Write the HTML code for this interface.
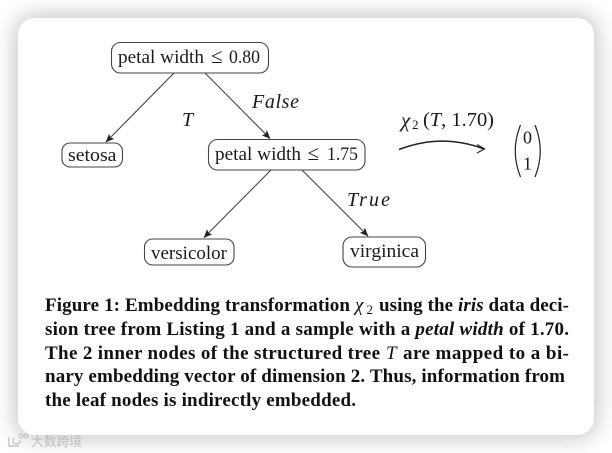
<!DOCTYPE html>
<html>
<head>
<meta charset="utf-8">
<style>
html,body{margin:0;padding:0;background:#fff}
#wrap{position:relative;width:612px;height:453px;overflow:hidden;background:#fff}
#card{position:absolute;left:18px;top:18px;width:576px;height:417px;background:#fff;border-radius:17px;box-shadow:0 0 20px 5px rgba(0,0,0,.2)}
svg{position:absolute;left:0;top:0}
text{font-family:"Liberation Serif","Noto Serif CJK SC",serif;fill:#1a1a1a}
.n{font-size:18.5px}
.i{font-size:20px;font-style:italic}
.c{font-size:19px;font-weight:bold;fill:#111}
.ci{font-style:italic}
.cm{font-style:italic;font-weight:normal}
rect{fill:#fff;stroke:#444;stroke-width:1.1}
.e{stroke:#444;stroke-width:1.1;fill:none}
</style>
</head>
<body>
<div id="wrap">
<div id="card"></div>
<svg width="612" height="453" viewBox="0 0 612 453">
<defs>
<marker id="a" markerUnits="userSpaceOnUse" markerWidth="9" markerHeight="8" refX="8" refY="4" orient="auto">
<path d="M0,0.4 L8.5,4 L0,7.6 L1.6,4 Z" fill="#222"/>
</marker>
</defs>

<line class="e" x1="174" y1="73" x2="106" y2="142" marker-end="url(#a)"/>
<line class="e" x1="205" y1="73" x2="270" y2="138.500" marker-end="url(#a)"/>
<line class="e" x1="271" y1="170" x2="204" y2="237.500" marker-end="url(#a)"/>
<line class="e" x1="302" y1="170" x2="368" y2="236" marker-end="url(#a)"/>

<rect x="111.500" y="42.500" width="157" height="30.500" rx="9"/>
<text class="n" x="118" y="63" textLength="86" lengthAdjust="spacingAndGlyphs">petal width</text>
<text class="n" x="211" y="63" style="font-size:21px">≤</text>
<text class="n" x="229" y="63" textLength="31" lengthAdjust="spacingAndGlyphs">0.80</text>

<rect x="62" y="143" width="60.500" height="24" rx="8"/>
<text class="n" x="68" y="161" textLength="48.500" lengthAdjust="spacingAndGlyphs">setosa</text>

<rect x="208.500" y="139.500" width="156.500" height="30.500" rx="9"/>
<text class="n" x="215" y="160" textLength="86" lengthAdjust="spacingAndGlyphs">petal width</text>
<text class="n" x="307.500" y="160" style="font-size:21px">≤</text>
<text class="n" x="327" y="160" textLength="31" lengthAdjust="spacingAndGlyphs">1.75</text>

<rect x="144.500" y="239" width="89.500" height="26" rx="8"/>
<text class="n" x="151" y="259" textLength="76" lengthAdjust="spacingAndGlyphs">versicolor</text>

<rect x="343" y="237" width="82.500" height="30" rx="9"/>
<text class="n" x="350" y="257" textLength="69" lengthAdjust="spacingAndGlyphs">virginica</text>

<text class="i" x="182" y="126">T</text>
<text class="i" x="252" y="108" textLength="47">False</text>
<text class="i" x="347" y="206" textLength="43">True</text>

<text class="i" x="401" y="127" style="font-size:21px">χ</text>
<text class="n" x="412" y="129" style="font-size:13px">2</text>
<text class="n" x="423" y="126" style="font-size:19.500px" textLength="71" lengthAdjust="spacingAndGlyphs">(<tspan font-style="italic">T</tspan>, 1.70)</text>

<path d="M399,149.500 Q442,133 484,149" fill="none" stroke="#222" stroke-width="1.5"/>
<path d="M477,144.500 L484.500,149 L477,153" fill="none" stroke="#222" stroke-width="1.2"/>

<path d="M520.500,125 Q510,151 520.500,177" fill="none" stroke="#222" stroke-width="1.2"/>
<path d="M535,125 Q545.500,151 535,177" fill="none" stroke="#222" stroke-width="1.2"/>
<text class="n" x="523" y="143.500" style="font-size:18px">0</text>
<text class="n" x="523" y="169.500" style="font-size:18px">1</text>

<text class="c" x="45" y="311" textLength="305" lengthAdjust="spacing">Figure 1: Embedding transformation</text>
<text class="c cm" x="355" y="311" style="font-weight:normal">χ</text>
<text class="c" x="366.500" y="314" style="font-size:13px;font-weight:normal">2</text>
<text class="c" x="379" y="311" textLength="190" lengthAdjust="spacing">using the <tspan class="ci">iris</tspan> data deci-</text>

<text class="c" x="45" y="335" textLength="524" lengthAdjust="spacing">sion tree from Listing 1 and a sample with a <tspan class="ci">petal width</tspan> of 1.70.</text>

<text class="c" x="45" y="359" textLength="335" lengthAdjust="spacing">The 2 inner nodes of the structured tree</text>
<text class="c cm" x="386" y="359" style="font-weight:normal">T</text>
<text class="c" x="403" y="359" textLength="166" lengthAdjust="spacing">are mapped to a bi-</text>

<text class="c" x="45" y="382" textLength="520" lengthAdjust="spacing">nary embedding vector of dimension 2. Thus, information from</text>

<text class="c" x="45" y="406" textLength="311" lengthAdjust="spacing">the leaf nodes is indirectly embedded.</text>

<g>
<path d="M9,437 L9,446 L19,446 M14,438 Q11,444 17,444 Q21,443 20,440" fill="none" stroke="#bbb" stroke-width="1.2"/>
<circle cx="21" cy="436" r="2" fill="none" stroke="#bbb"/>
<circle cx="26" cy="436" r="2" fill="none" stroke="#bbb"/>
<text x="31" y="446" font-size="13" style="fill:#bdbdbd;font-family:'Liberation Sans','Noto Sans CJK SC',sans-serif" textLength="51" lengthAdjust="spacingAndGlyphs">大数跨境</text>
</g>
</svg>
</div>
</body>
</html>
